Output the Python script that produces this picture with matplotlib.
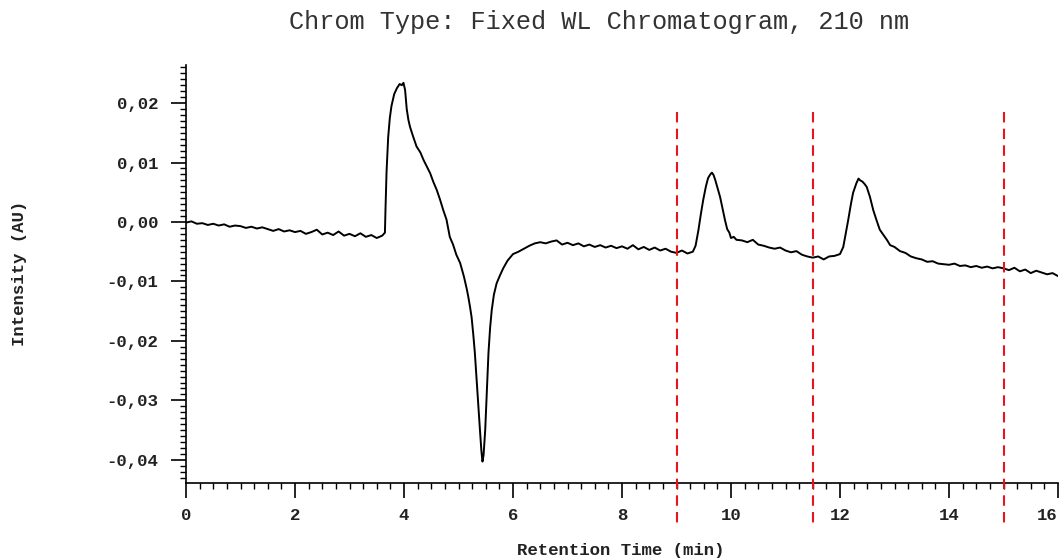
import numpy as np
import matplotlib
matplotlib.use('Agg')
from matplotlib import pyplot as plt
from matplotlib.ticker import MultipleLocator, FuncFormatter

# retention time (min) and intensity (AU)
time_min = [
  0.0, 0.1, 0.2, 0.3, 0.4, 0.5, 0.6, 0.7, 0.8, 0.9,
  1.0, 1.1, 1.2, 1.3, 1.4, 1.5, 1.6, 1.7, 1.8, 1.9,
  2.0, 2.1, 2.2, 2.3, 2.4, 2.5, 2.6, 2.7, 2.8, 2.9,
  3.0, 3.1, 3.2, 3.3, 3.4, 3.5, 3.6, 3.65, 3.66, 3.68,
  3.71, 3.74, 3.77, 3.82, 3.87, 3.92, 3.96, 3.99, 4.02, 4.05,
  4.08, 4.11, 4.17, 4.23, 4.3, 4.36, 4.42, 4.48, 4.54, 4.6,
  4.66, 4.72, 4.78, 4.84, 4.9, 4.96, 5.03, 5.1, 5.15, 5.18,
  5.21, 5.24, 5.27, 5.3, 5.33, 5.36, 5.39, 5.42, 5.44, 5.46,
  5.49, 5.52, 5.55, 5.58, 5.61, 5.65, 5.7, 5.76, 5.82, 5.9,
  6.0, 6.1, 6.2, 6.3, 6.4, 6.5, 6.6, 6.7, 6.8, 6.9,
  7.0, 7.1, 7.2, 7.3, 7.4, 7.5, 7.6, 7.7, 7.8, 7.9,
  8.0, 8.1, 8.2, 8.3, 8.4, 8.5, 8.6, 8.7, 8.8, 8.9,
  9.0, 9.1, 9.2, 9.3, 9.35, 9.4, 9.45, 9.49, 9.54, 9.58,
  9.62, 9.65, 9.68, 9.71, 9.75, 9.8, 9.85, 9.89, 9.93, 9.97,
  10.0, 10.05, 10.1, 10.2, 10.3, 10.4, 10.5, 10.6, 10.7, 10.8,
  10.9, 11.0, 11.1, 11.2, 11.3, 11.4, 11.5, 11.6, 11.7, 11.8,
  11.9, 12.0, 12.06, 12.1, 12.15, 12.2, 12.24, 12.3, 12.34, 12.37,
  12.41, 12.45, 12.49, 12.55, 12.61, 12.67, 12.73, 12.8, 12.86, 12.92,
  13.0, 13.1, 13.2, 13.3, 13.4, 13.5, 13.6, 13.7, 13.8, 13.9,
  14.0, 14.1, 14.2, 14.3, 14.4, 14.5, 14.6, 14.7, 14.8, 14.9,
  15.0, 15.1, 15.2, 15.3, 15.4, 15.5, 15.6, 15.7, 15.8, 15.9,
  16.0,
]
intensity_au = [
  -0.0001, 0.0001, -0.0003, -0.0002, -0.0005, -0.0003, -0.0006, -0.0004, -0.0008, -0.0006,
  -0.0007, -0.0010, -0.0008, -0.0011, -0.0009, -0.0012, -0.0015, -0.0012, -0.0016, -0.0014,
  -0.0017, -0.0015, -0.0020, -0.0017, -0.0013, -0.0021, -0.0018, -0.0022, -0.0016, -0.0023,
  -0.0020, -0.0024, -0.0019, -0.0025, -0.0022, -0.0027, -0.0023, -0.0018, 0.0020, 0.0085,
  0.0143, 0.0175, 0.0195, 0.0215, 0.0225, 0.0232, 0.0230, 0.0234, 0.0222, 0.0190,
  0.0172, 0.0160, 0.0143, 0.0127, 0.0117, 0.0104, 0.0093, 0.0082, 0.0067, 0.0054,
  0.0038, 0.0020, 0.0004, -0.0025, -0.0038, -0.0055, -0.0069, -0.0092, -0.0112, -0.0126,
  -0.0142, -0.0160, -0.0188, -0.0220, -0.0262, -0.0304, -0.0345, -0.0385, -0.0403, -0.0392,
  -0.0350, -0.0285, -0.0220, -0.0178, -0.0148, -0.0122, -0.0103, -0.0090, -0.0078, -0.0065,
  -0.0054, -0.0050, -0.0045, -0.0040, -0.0036, -0.0034, -0.0036, -0.0033, -0.0031, -0.0038,
  -0.0035, -0.0039, -0.0036, -0.0041, -0.0038, -0.0042, -0.0039, -0.0043, -0.0040, -0.0044,
  -0.0041, -0.0045, -0.0039, -0.0046, -0.0042, -0.0047, -0.0043, -0.0048, -0.0045, -0.0050,
  -0.0052, -0.0048, -0.0053, -0.0050, -0.0040, -0.0015, 0.0015, 0.0037, 0.0060, 0.0074,
  0.0080, 0.0083, 0.0079, 0.0071, 0.0058, 0.0042, 0.0020, 0.0003, -0.0012, -0.0018,
  -0.0027, -0.0025, -0.0030, -0.0031, -0.0034, -0.0030, -0.0038, -0.0040, -0.0043, -0.0045,
  -0.0043, -0.0048, -0.0051, -0.0049, -0.0055, -0.0058, -0.0060, -0.0058, -0.0063, -0.0058,
  -0.0057, -0.0054, -0.0042, -0.0022, 0.0003, 0.0030, 0.0049, 0.0065, 0.0073, 0.0070,
  0.0068, 0.0064, 0.0059, 0.0042, 0.0020, 0.0003, -0.0013, -0.0022, -0.0030, -0.0039,
  -0.0042, -0.0049, -0.0052, -0.0058, -0.0061, -0.0063, -0.0067, -0.0066, -0.0070, -0.0071,
  -0.0072, -0.0070, -0.0074, -0.0073, -0.0076, -0.0074, -0.0077, -0.0075, -0.0078, -0.0076,
  -0.0078, -0.0081, -0.0077, -0.0083, -0.0080, -0.0086, -0.0082, -0.0085, -0.0088, -0.0086,
  -0.0091,
]

# integration boundaries (red dashed markers)
marker_times = [9.0, 11.5, 15.0]

mono = 'Liberation Mono'

fig = plt.figure(figsize=(10.6, 5.6), dpi=100, facecolor='white')
ax = fig.add_axes([186/1060, 1-483/560, (1058-186)/1060, (483-65)/560])

ax.plot(time_min, intensity_au, color='black', linewidth=1.4)

for t in marker_times:
  ax.plot([t, t], [0.0185, -0.0506], color='#e8141c', linewidth=1.5,
          dashes=(5, 3), clip_on=False, zorder=5)

ax.set_xlim(0, 16)
ax.set_ylim(-0.0439, 0.0264)

for side in ['top', 'right']:
  ax.spines[side].set_visible(False)
for side in ['left', 'bottom']:
  ax.spines[side].set_linewidth(1.2)

ax.xaxis.set_major_locator(MultipleLocator(2))
ax.xaxis.set_minor_locator(MultipleLocator(0.25))
ax.yaxis.set_major_locator(MultipleLocator(0.01))
ax.yaxis.set_minor_locator(MultipleLocator(0.001))
ax.yaxis.set_major_formatter(FuncFormatter(lambda v, p: ('%.2f' % v).replace('.', ',').replace('-0,00', '0,00')))
ax.xaxis.set_major_formatter(FuncFormatter(lambda v, p: '%d' % v))

ax.tick_params(which='major', direction='out', length=11, width=1.2, pad=7, labelsize=12.5)
ax.tick_params(which='minor', direction='out', length=4, width=1.0)
ax.tick_params(axis='y', which='major', pad=9)

fig.canvas.draw()
for lbl in ax.get_xticklabels() + ax.get_yticklabels():
  lbl.set_fontfamily(mono)
  lbl.set_fontweight('bold')
  lbl.set_color('#222222')
# last x label sits flush with the right edge
for lbl in ax.get_xticklabels():
  if lbl.get_text() == '16':
    lbl.set_horizontalalignment('right')

fig.text(599/1060, 1-22/560, 'Chrom Type: Fixed WL Chromatogram, 210 nm',
         family=mono, fontsize=18.2, color='#333333', ha='center', va='center')
fig.text(20/1060, 1-273/560, 'Intensity (AU)', family=mono, fontweight='bold',
         fontsize=12.5, color='#222222', rotation=90, ha='center', va='center')
fig.text(621/1060, 1-551/560, 'Retention Time (min)', family=mono, fontweight='bold',
         fontsize=12.5, color='#222222', ha='center', va='center')

fig.savefig('out.png', dpi=100)
plt.close()
